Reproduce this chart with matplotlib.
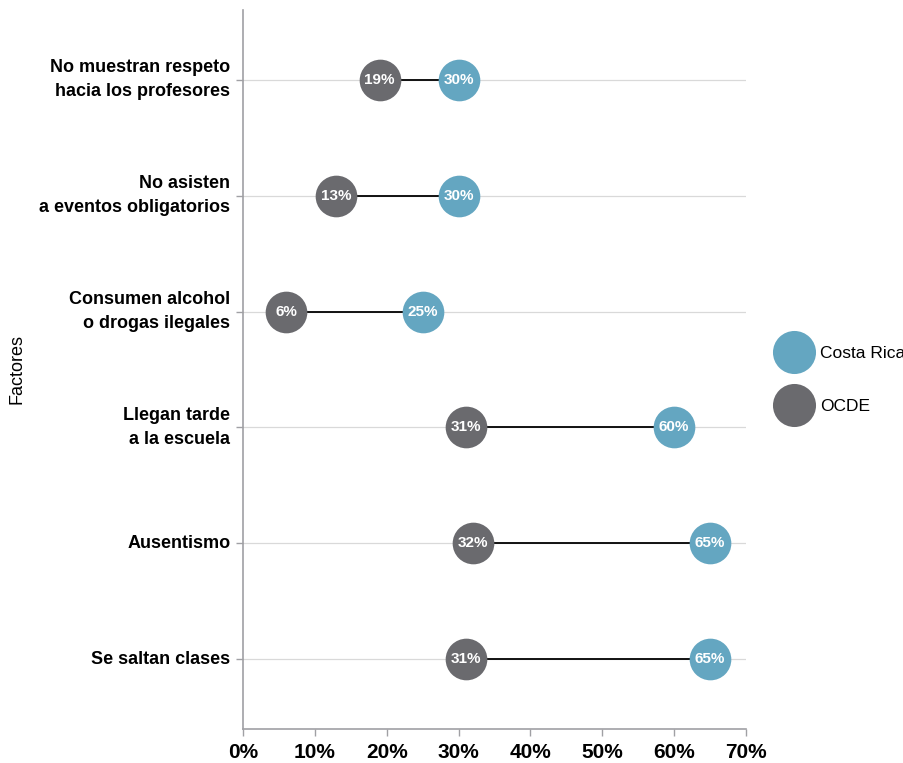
import matplotlib
matplotlib.use('Agg')
import matplotlib.pyplot as plt
from matplotlib.lines import Line2D
from matplotlib import font_manager

factores = ['No muestran respeto\nhacia los profesores',
            'No asisten\na eventos obligatorios',
            'Consumen alcohol\no drogas ilegales',
            'Llegan tarde\na la escuela',
            'Ausentismo',
            'Se saltan clases']
ocde = [19, 13, 6, 31, 32, 31]
costa_rica = [30, 30, 25, 60, 65, 65]
x_ticks = [0, 10, 20, 30, 40, 50, 60, 70]

installed = {f.name for f in font_manager.fontManager.ttflist}
narrow = 'Liberation Sans Narrow' if 'Liberation Sans Narrow' in installed else 'Liberation Sans'
plt.rcParams['font.family'] = [narrow, 'DejaVu Sans']

c_cr = '#64a6c1'
c_oc = '#6a6a6e'

W, H = 904, 763
fig = plt.figure(figsize=(W / 100, H / 100), dpi=100)
ax = fig.add_axes([243 / W, 1 - 729 / H, (746 - 243) / W, (729 - 10) / H])

y = list(range(len(factores)))
for yi, o, c in zip(y, ocde, costa_rica):
    ax.plot([o, c], [yi, yi], color='black', lw=1.3, zorder=2)
ax.scatter(ocde, y, s=900, color=c_oc, zorder=3, linewidths=0)
ax.scatter(costa_rica, y, s=900, color=c_cr, zorder=3, linewidths=0)
for yi, o, c in zip(y, ocde, costa_rica):
    ax.text(o, yi, f'{o}%', color='white', fontsize=11, fontweight='bold',
            ha='center', va='center', zorder=4)
    ax.text(c, yi, f'{c}%', color='white', fontsize=11, fontweight='bold',
            ha='center', va='center', zorder=4)

ax.set_xlim(0, 70)
ax.set_ylim(5.6, -0.6)
ax.set_xticks(x_ticks)
ax.set_xticklabels([f'{t}%' for t in x_ticks], fontsize=15, fontweight='bold')
ax.set_yticks(y)
ax.set_yticklabels(factores, fontsize=13, fontweight='bold', linespacing=1.5)
for lbl in ax.get_yticklabels():
    lbl.set_horizontalalignment('right')
    lbl.set_verticalalignment('center')
ax.grid(axis='y', color='#d9d9d9', lw=0.9, zorder=1)
for s in ['top', 'right']:
    ax.spines[s].set_visible(False)
for s in ['left', 'bottom']:
    ax.spines[s].set_color('#a0a0a4')
    ax.spines[s].set_linewidth(1.2)
ax.tick_params(axis='x', colors='#a0a0a4', length=5, width=1, labelcolor='black', pad=5)
ax.tick_params(axis='y', colors='#a0a0a4', length=5, width=1, labelcolor='black', pad=4)
ax.set_ylabel('Factores', fontsize=13)
ax.yaxis.set_label_coords(-218 / (746 - 243), 0.5)

handles = [Line2D([], [], marker='o', ls='', color=c_cr, markersize=31, markeredgewidth=0),
           Line2D([], [], marker='o', ls='', color=c_oc, markersize=31, markeredgewidth=0)]
fig.legend(handles, ['Costa Rica', 'OCDE'], loc='center left',
           bbox_to_anchor=(770 / W, 1 - 380 / H), frameon=False, fontsize=12.5,
           handletextpad=0.5, labelspacing=2.2, borderaxespad=0)

fig.savefig('out.png', dpi=100)
